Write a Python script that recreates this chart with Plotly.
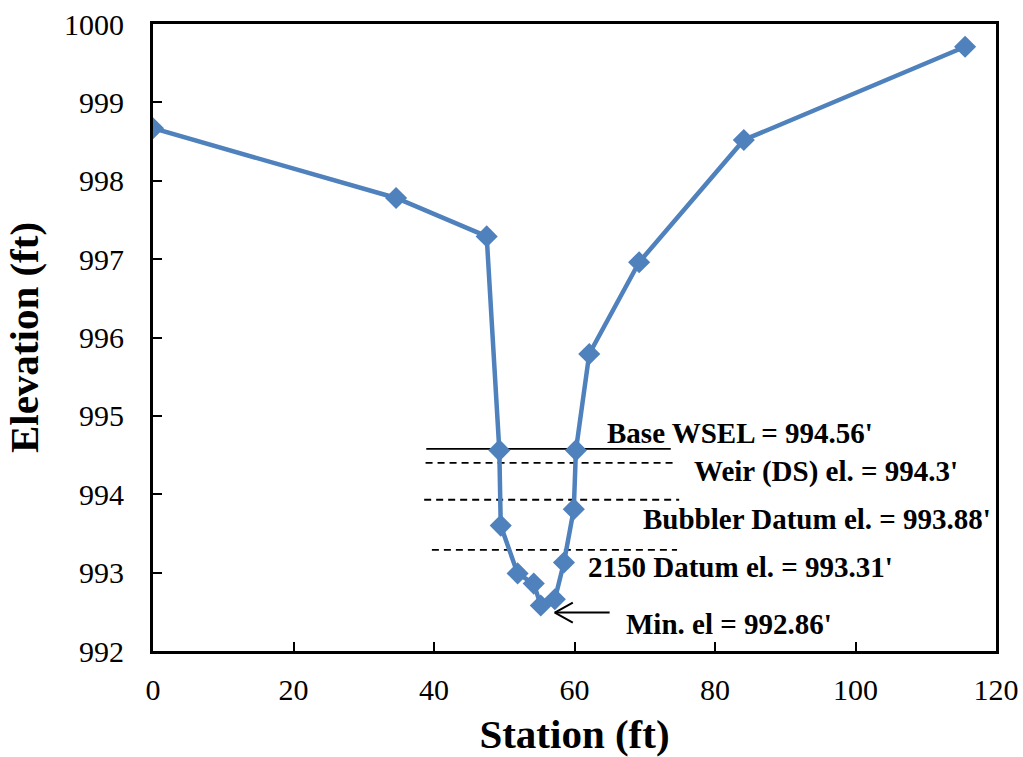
import plotly.graph_objects as go

station = [0, 34.6, 47.5, 49.3, 49.5, 51.9, 54.2, 55.2, 57.2, 58.5, 59.9, 60.2, 62.1, 69.2, 84.1, 115.6]
elevation = [998.67, 997.78, 997.29, 994.56, 993.60, 992.99, 992.86, 992.58, 992.66, 993.13, 993.81, 994.56, 995.79, 996.96, 998.52, 999.71]

x_ticks = [0, 20, 40, 60, 80, 100, 120]
y_ticks = [992, 993, 994, 995, 996, 997, 998, 999, 1000]

ref_names = ["Base WSEL", "Weir (DS)", "Bubbler Datum", "2150 Datum"]
ref_elev = [994.58, 994.40, 993.93, 993.29]
ref_x0 = [38.9, 38.8, 38.6, 39.7]
ref_x1 = [73.7, 74.1, 74.9, 74.6]
ref_dash = ["solid", "7px,5px", "7px,5px", "7px,5px"]

labels = ["Base WSEL = 994.56'", "Weir (DS) el. = 994.3'", "Bubbler Datum el. = 993.88'",
          "2150 Datum el. = 993.31'", "Min. el = 992.86'"]
label_x = [64.4, 76.7, 69.4, 61.6, 67.1]
label_y = [994.78, 994.285, 993.68, 993.07, 992.34]

arrow_x = [65.0, 57.2]   # tail -> head
arrow_y = [992.49, 992.49]
barb_dx, barb_dy = 2.56, 0.128

fig = go.Figure()
for n, y, a, b, d in zip(ref_names, ref_elev, ref_x0, ref_x1, ref_dash):
    fig.add_trace(go.Scatter(x=[a, b], y=[y, y], mode="lines", name=n,
                             line=dict(color="black", width=1.8, dash=d), showlegend=False))

fig.add_trace(go.Scatter(x=station, y=elevation, mode="lines+markers",
                         line=dict(color="#4F81BD", width=4.5),
                         marker=dict(symbol="diamond", size=17, color="#4F81BD"),
                         showlegend=False))

# arrow pointing at the minimum (shaft + open head)
hx, hy = arrow_x[1], arrow_y[1]
fig.add_trace(go.Scatter(x=arrow_x, y=arrow_y, mode="lines",
                         line=dict(color="black", width=2), showlegend=False))
fig.add_trace(go.Scatter(x=[hx + barb_dx, hx, hx + barb_dx], y=[hy + barb_dy, hy, hy - barb_dy],
                         mode="lines", line=dict(color="black", width=2), showlegend=False))

for t, x, y in zip(labels, label_x, label_y):
    fig.add_annotation(x=x, y=y, text="<b>" + t + "</b>", showarrow=False, xanchor="left", yanchor="middle",
                       font=dict(family="Liberation Serif", size=29, color="black"))

fig.update_layout(
    width=1023, height=757,
    margin=dict(l=153, r=27, t=24, b=106, autoexpand=False),
    plot_bgcolor="white", paper_bgcolor="white",
    font=dict(family="Liberation Serif", color="black"),
)
fig.update_xaxes(range=[0, 120], tickvals=x_ticks, ticktext=[str(v) for v in x_ticks],
                 showgrid=False, zeroline=False,
                 showline=True, mirror=True, linecolor="black", linewidth=3,
                 ticks="inside", ticklen=9, tickwidth=2, tickcolor="black",
                 ticklabelstandoff=10, automargin=False, ticklabeloverflow="allow",
                 tickfont=dict(family="Liberation Serif", size=30),
                 title=dict(text="<b>Station (ft)</b>", font=dict(family="Liberation Serif", size=41), standoff=18))
fig.update_yaxes(range=[992, 1000], tickvals=y_ticks, ticktext=[str(v) for v in y_ticks],
                 showgrid=False, zeroline=False,
                 showline=True, mirror=True, linecolor="black", linewidth=3,
                 ticks="inside", ticklen=9, tickwidth=2, tickcolor="black",
                 ticklabelstandoff=20, automargin=False, ticklabeloverflow="allow",
                 tickfont=dict(family="Liberation Serif", size=30),
                 title=dict(text="<b>Elevation (ft)</b>", font=dict(family="Liberation Serif", size=41), standoff=13))

fig.write_html("out.html", config={"displayModeBar": False},
               post_script="document.body.style.margin='0';document.body.style.overflow='hidden';")
